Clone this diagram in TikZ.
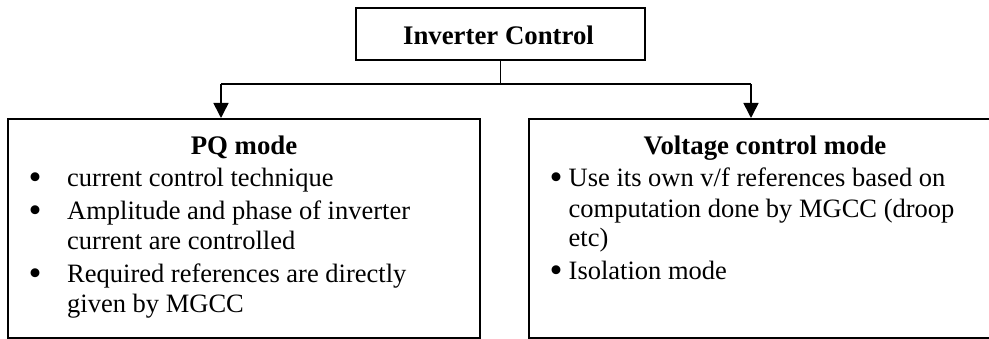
\documentclass[tikz,border=0pt]{standalone}
\usepackage{fontspec}
\setmainfont{Liberation Serif}
\usetikzlibrary{arrows.meta}
\newcommand{\bigbul}{\smash{\raisebox{-3pt}{\scalebox{1.4}{\textbullet}}}}
\newcommand{\lbul}{\llap{\bigbul\hspace{25.5pt}}}
\newcommand{\rbul}{\llap{\bigbul\hspace{6pt}}}
\tikzset{
  box/.style={draw, line width=2pt, rectangle, inner sep=0pt},
  conn/.style={line width=1.6pt},
  tip/.style={-{Triangle[width=15pt,length=15pt]}},
  ttl/.style={font=\fontsize{26.8}{31}\selectfont\bfseries, anchor=base, inner sep=0pt},
  ln/.style={font=\fontsize{26.5}{31}\selectfont, anchor=base west, inner sep=0pt},
}
\begin{document}
\begin{tikzpicture}[x=1pt,y=-1pt]
\useasboundingbox (0,0) rectangle (989,339);
% boxes
\node[box, minimum width=289pt, minimum height=52pt] (top) at (500.5,34) {};
\node[box, minimum width=472pt, minimum height=219pt] (pq) at (244,228.5) {};
\node[box, minimum width=473pt, minimum height=219pt] (vc) at (765.5,228.5) {};
% texts
\node[ttl] (ttop) at (498.5,44.3) {Inverter Control};
\node[ttl] (tpq) at (244,155) {PQ mode};
\node[ln] (p1) at (67,186.7) {\lbul current control technique};
\node[ln] (p2) at (67,219.5) {\lbul Amplitude and phase of inverter};
\node[ln] (p3) at (67,249.5) {current are controlled};
\node[ln] (p4) at (67,282.5) {\lbul Required references are directly};
\node[ln] (p5) at (67,312.5) {given by MGCC};
\node[ttl] (tvc) at (765,155) {Voltage control mode};
\node[ln] (v1) at (568.5,186.7) {\rbul Use its own v/f references based on};
\node[ln] (v2) at (568.5,217.5) {computation done by MGCC (droop};
\node[ln] (v3) at (568.5,247) {etc)};
\node[ln] (v4) at (568.5,280) {\rbul Isolation mode};
% connectors
\coordinate (busL) at (221,84);
\coordinate (busR) at (751,84);
\draw[conn] (top.south) -- (top.south |- busL);
\draw[conn] (busL) -- (busR);
\draw[conn,tip] (busL) -- (busL |- pq.north);
\draw[conn,tip] (busR) -- (busR |- vc.north);
\end{tikzpicture}
\end{document}
